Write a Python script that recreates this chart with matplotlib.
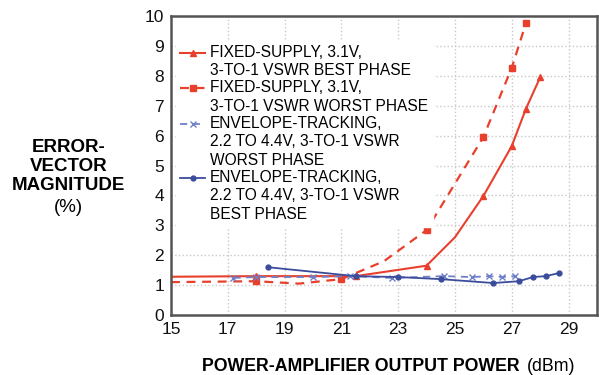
import matplotlib
matplotlib.use("Agg")
from matplotlib import pyplot as plt
from matplotlib.legend_handler import HandlerLine2D

plt.rcParams['font.family'] = ['Liberation Sans', 'DejaVu Sans']

# fixed supply 3.1V, best phase (solid red, triangles)
fs_best_x = [15, 18, 21.5, 24, 25, 26, 27, 27.5, 28]
fs_best_y = [1.28, 1.3, 1.3, 1.65, 2.6, 3.98, 5.65, 6.9, 7.95]
fs_best_marks = [1, 2, 3, 5, 6, 7, 8]

# fixed supply 3.1V, worst phase (dashed red, squares)
fs_worst_x = [15, 18, 19.5, 21, 22.5, 24, 26, 27, 27.5]
fs_worst_y = [1.1, 1.13, 1.05, 1.2, 1.8, 2.84, 5.95, 8.27, 9.76]
fs_worst_marks = [1, 3, 5, 6, 7, 8]

# envelope tracking, worst phase (dashed blue, x)
et_worst_x = [17.2, 18, 20, 21.3, 22.8, 24.6, 25.6, 26.2, 26.65, 27.1]
et_worst_y = [1.24, 1.27, 1.27, 1.3, 1.24, 1.3, 1.27, 1.3, 1.27, 1.3]

# envelope tracking, best phase (solid blue, dots)
et_best_x = [18.4, 21.5, 23, 24.5, 26.35, 27.25, 27.75, 28.2, 28.65]
et_best_y = [1.6, 1.3, 1.27, 1.2, 1.07, 1.13, 1.27, 1.3, 1.4]

labels = [
    "FIXED-SUPPLY, 3.1V,\n3-TO-1 VSWR BEST PHASE",
    "FIXED-SUPPLY, 3.1V,\n3-TO-1 VSWR WORST PHASE",
    "ENVELOPE-TRACKING,\n2.2 TO 4.4V, 3-TO-1 VSWR\nWORST PHASE",
    "ENVELOPE-TRACKING,\n2.2 TO 4.4V, 3-TO-1 VSWR\nBEST PHASE",
]

red = '#e8402c'
blue_dark = '#3b4c9c'
blue_light = '#6f80c8'

LINE_PITCH_PT = 13.6


# legend handle sits next to the first line of a multi-line label
class FirstLineHandler(HandlerLine2D):
    def __init__(self, nlines, **kw):
        super().__init__(**kw)
        self.nlines = nlines

    def create_artists(self, legend, orig_handle, xdescent, ydescent, width,
                       height, fontsize, trans):
        arts = super().create_artists(legend, orig_handle, xdescent, ydescent,
                                      width, height, fontsize, trans)
        shift = (self.nlines - 1) / 2 * LINE_PITCH_PT
        for a in arts:
            a.set_ydata([y + shift for y in a.get_ydata()])
        return arts


fig = plt.figure(figsize=(5.99, 3.75), dpi=100)
ax = fig.add_axes([0.2855, 0.16, 0.711, 0.797])

l1, = ax.plot(fs_best_x, fs_best_y, '-', color=red, lw=1.5, marker='^', ms=4,
              markevery=fs_best_marks, label=labels[0])
l2, = ax.plot(fs_worst_x, fs_worst_y, '--', color=red, lw=1.6, marker='s', ms=4.5,
              markevery=fs_worst_marks, label=labels[1], dashes=(4, 3))
l3, = ax.plot(et_worst_x, et_worst_y, '--', color=blue_light, lw=1.3, marker='x',
              ms=4, label=labels[2], dashes=(4, 3))
l4, = ax.plot(et_best_x, et_best_y, '-', color=blue_dark, lw=1.3, marker='o',
              ms=3.5, label=labels[3])

ax.set_xlim(15, 30)
ax.set_ylim(0, 10)
ax.set_xticks(range(15, 30, 2))
ax.set_yticks(range(0, 11))
ax.tick_params(labelsize=12.5, length=0, pad=5, colors='#111111')
ax.grid(True, color='#c8c8c8', linestyle=':', linewidth=1)
for s in ax.spines.values():
    s.set_color('#555555')
    s.set_linewidth(1.8)

hmap = {h: FirstLineHandler(lab.count('\n') + 1)
        for h, lab in zip([l1, l2, l3, l4], labels)}
leg = ax.legend(loc='upper left', bbox_to_anchor=(0.0, 0.935), fontsize=11.2,
                frameon=True, fancybox=False, edgecolor='white', framealpha=1,
                handlelength=1.6, handletextpad=0.3, labelspacing=0.12,
                borderpad=0.3, borderaxespad=0.3, handler_map=hmap)
for t in leg.get_texts():
    t.set_linespacing(1.3)

fig.text(0.114, 0.556, "ERROR-\nVECTOR\nMAGNITUDE", ha='center', va='center',
         fontsize=13.5, fontweight='bold', linespacing=1.15)
fig.text(0.114, 0.446, "(%)", ha='center', va='center', fontsize=13.5)

fig.text(0.338, 0.022, "POWER-AMPLIFIER OUTPUT POWER", ha='left', va='center',
         fontsize=12.8, fontweight='bold')
fig.text(0.879, 0.022, "(dBm)", ha='left', va='center', fontsize=12.8)

fig.savefig("out.png", dpi=100)
